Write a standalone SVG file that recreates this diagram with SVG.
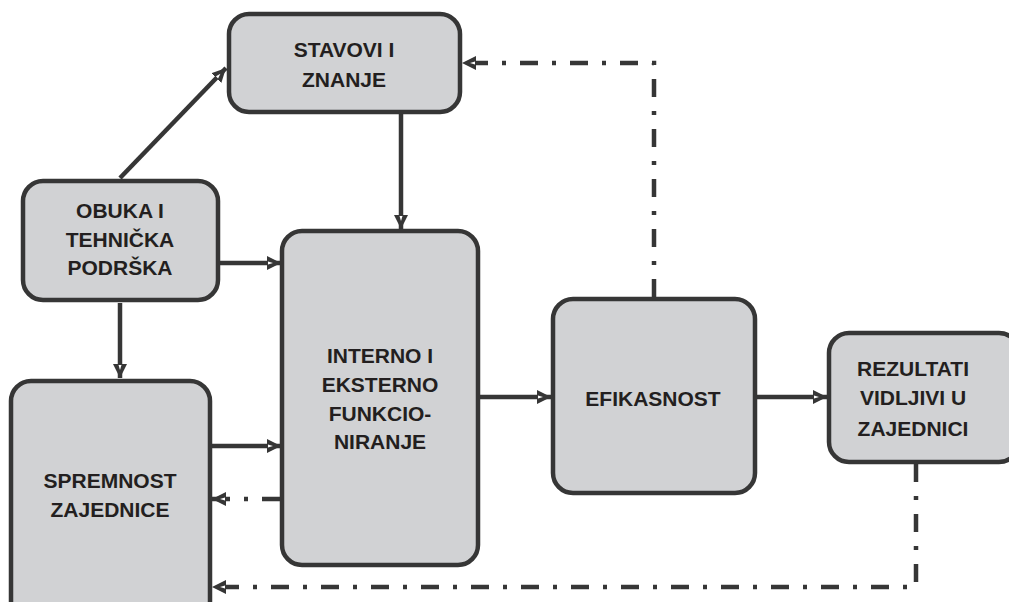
<svg xmlns="http://www.w3.org/2000/svg" width="1009" height="602" viewBox="0 0 1009 602">
<defs>
<marker id="ah" markerUnits="userSpaceOnUse" markerWidth="16" markerHeight="14" refX="14" refY="7" orient="auto">
<path d="M0,0 L14,7 L0,14 Z" fill="#363636"/>
<path d="M1,5.5 L6,7 L1,8.5 Z" fill="#ffffff"/>
</marker>
</defs>
<style>
.box{fill:#d1d2d4;stroke:#363636;stroke-width:4.5}
.t{font-family:"Liberation Sans",Arial,sans-serif;font-weight:bold;font-size:21px;fill:#231f20;text-anchor:middle}
.c{fill:none;stroke:#363636;stroke-width:4.5}
.d{fill:none;stroke:#363636;stroke-width:4.5;stroke-dasharray:18 14 4 14}
</style>
<rect width="1009" height="602" fill="#ffffff"/>
<g id="connectors">
<line class="c" x1="120" y1="178" x2="226" y2="68" marker-end="url(#ah)"/>
<line class="c" x1="401" y1="114" x2="401" y2="229" marker-end="url(#ah)"/>
<line class="c" x1="220" y1="263" x2="281" y2="263" marker-end="url(#ah)"/>
<line class="c" x1="120" y1="303" x2="120" y2="378" marker-end="url(#ah)"/>
<line class="c" x1="212" y1="446" x2="281" y2="446" marker-end="url(#ah)"/>
<line class="d" x1="280" y1="499" x2="212" y2="499" marker-end="url(#ah)"/>
<line class="c" x1="480" y1="397" x2="551" y2="397" marker-end="url(#ah)"/>
<line class="c" x1="757" y1="397" x2="827" y2="397" marker-end="url(#ah)"/>
<polyline class="d" points="654,297 654,63 462,63" marker-end="url(#ah)"/>
<polyline class="d" points="916,464 916,587 212,587" marker-end="url(#ah)"/>
</g>
<g id="stavovi">
<rect class="box" x="229" y="14" width="231" height="98" rx="20"/>
<text class="t" x="344" y="57">STAVOVI I</text>
<text class="t" x="344" y="87">ZNANJE</text>
</g>
<g id="obuka">
<rect class="box" x="23" y="181" width="195" height="119" rx="20"/>
<text class="t" x="120" y="218">OBUKA I</text>
<text class="t" x="120" y="247">TEHNIČKA</text>
<text class="t" x="120" y="275">PODRŠKA</text>
</g>
<g id="interno">
<rect class="box" x="282" y="231" width="196" height="334" rx="20"/>
<text class="t" x="380" y="363">INTERNO I</text>
<text class="t" x="380" y="392">EKSTERNO</text>
<text class="t" x="380" y="421">FUNKCIO-</text>
<text class="t" x="380" y="449">NIRANJE</text>
</g>
<g id="spremnost">
<rect class="box" x="11" y="381" width="199" height="240" rx="20"/>
<text class="t" x="110" y="488">SPREMNOST</text>
<text class="t" x="110" y="517">ZAJEDNICE</text>
</g>
<g id="efikasnost">
<rect class="box" x="553" y="299" width="202" height="194" rx="20"/>
<text class="t" x="653" y="406">EFIKASNOST</text>
</g>
<g id="rezultati">
<rect class="box" x="829" y="333" width="190" height="129" rx="20"/>
<text class="t" x="913" y="376">REZULTATI</text>
<text class="t" x="913" y="405">VIDLJIVI U</text>
<text class="t" x="913" y="436">ZAJEDNICI</text>
</g>
</svg>
